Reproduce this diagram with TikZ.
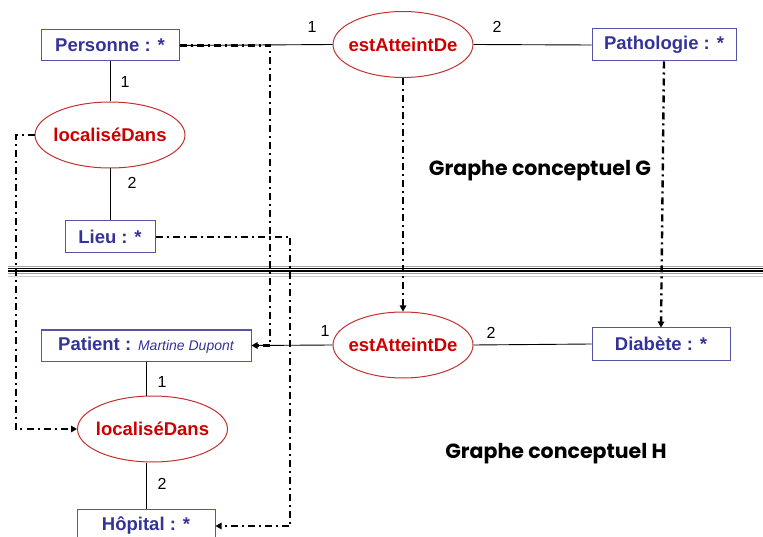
\documentclass[tikz,border=0pt]{standalone}
\usepackage{fontspec}
\setmainfont{Liberation Sans}
\newfontfamily\gfont{Poppins}
\usetikzlibrary{shapes.geometric,arrows.meta}
\definecolor{cblue}{HTML}{333399}
\definecolor{cbord}{HTML}{5555A5}
\definecolor{cred}{HTML}{CC0000}
\definecolor{credb}{HTML}{C43030}
\newcommand{\ctext}[1]{\makebox[0pt]{#1}}
\tikzset{
  concept/.style={draw=cbord, line width=1pt, rectangle, inner sep=0pt, text=cblue,
     font=\fontsize{18.5}{20}\selectfont\bfseries},
  rel/.style={draw=credb, line width=1pt, ellipse, inner sep=0pt, minimum width=140pt,
     minimum height=66pt, text=cred, font=\fontsize{18.5}{20}\selectfont\bfseries},
  num/.style={font=\fontsize{16}{18}\selectfont},
  link/.style={line width=0.9pt},
  proj/.style={line width=2.4pt, dash pattern=on 7pt off 4pt on 2pt off 4pt},
  projarrow/.style={proj, -{Triangle[length=6pt,width=6.5pt]}},
  title/.style={font=\gfont\fontsize{20.5}{22}\selectfont\bfseries},
}
\begin{document}
\begin{tikzpicture}[x=1pt,y=-1pt]
\useasboundingbox (0,0) rectangle (763,537);
\clip (0,0) rectangle (763,537);
% graph G
\node[concept, minimum width=138pt, minimum height=31pt] (pers) at (110,45.5) {Personne : *};
\node[rel] (eat) at (403,44.5) {\ctext{estAtteintDe}};
\node[concept, minimum width=144pt, minimum height=32pt] (patho) at (664,45) {Pathologie : *};
\node[rel, minimum width=150pt] (lot) at (110,135) {\ctext{localiséDans}};
\node[concept, minimum width=90pt, minimum height=32pt] (lieu) at (110,237) {Lieu : *};
\node[title] (tg) at (540,171) {Graphe conceptuel G};
% separator
\draw[gray!70, line width=1pt] (8,266.5) -- (763,266.5);
\draw[black, line width=1pt] (8,268.3) -- (763,268.3);
\draw[black, line width=1.6pt] (8,271) -- (763,271);
\draw[gray!75, line width=1.5pt] (8,273.6) -- (763,273.6);
\draw[gray!40, line width=1pt] (8,276.3) -- (763,276.3);
% graph H
\node[concept, minimum width=210pt, minimum height=31pt] (pat) at (146,345.5)
  {Patient : {\fontsize{14}{16}\selectfont\mdseries\itshape Martine Dupont}};
\node[rel] (eab) at (403,345) {\ctext{estAtteintDe}};
\node[concept, minimum width=138pt, minimum height=32pt] (diab) at (661,344) {Diabète : *};
\node[rel, minimum width=150pt] (lob) at (152.5,429) {\ctext{localiséDans}};
\node[concept, minimum width=138pt, minimum height=34pt] (hop) at (146,526) {Hôpital : *};
\node[title] (th) at (556,454) {Graphe conceptuel H};
% solid links
\draw[link] (pers.east) -- (eat.west);
\draw[link] (eat.east) -- (patho.west);
\draw[link] (pers.south) -- (lot.north);
\draw[link] (lot.south) -- (lieu.north);
\draw[link] (eab.west) -- (pat.east);
\draw[link] (eab.east) -- (diab.west);
\draw[link] (pat.south) -- (pat.south |- lob.north);
\draw[link] (hop.north |- lob.south) -- (hop.north);
% numbers
\node[num] (n1) at (312,27) {1};
\node[num] (n2) at (497,27) {2};
\node[num] (n3) at (125,82) {1};
\node[num] (n4) at (132,183) {2};
\node[num] (n5) at (325,331) {1};
\node[num] (n6) at (491,333) {2};
\node[num] (n7) at (162,382) {1};
\node[num] (n8) at (162,484) {2};
% projection
\coordinate (k1) at (270,0);
\coordinate (k2) at (16,0);
\coordinate (k3) at (290,0);
\draw[projarrow] (pers.east) -| (k1 |- pat.east) -- (pat.east);
\draw[projarrow] (lot.west) -| (k2 |- lob.west) -- (lob.west);
\draw[projarrow] (lieu.east) -| (k3 |- hop.east) -- (hop.east);
\draw[projarrow] (eat.south) -- (eab.north);
\draw[projarrow] (patho.south) -- (diab.north);
\end{tikzpicture}
\end{document}
